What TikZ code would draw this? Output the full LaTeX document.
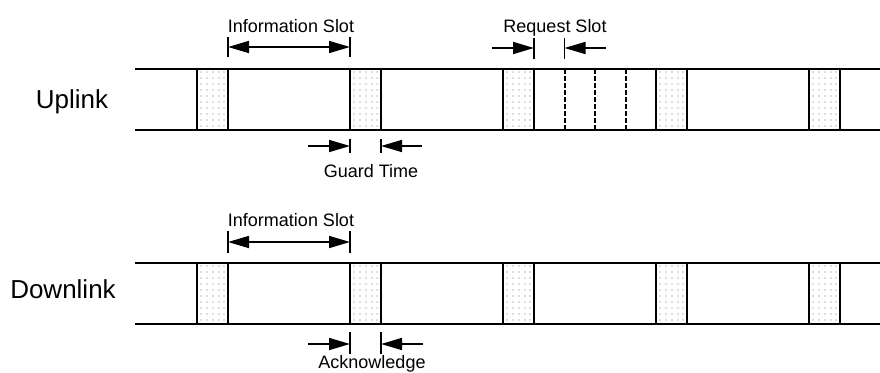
\documentclass[tikz,border=0pt]{standalone}
\usepackage{fontspec}
\setmainfont{Liberation Sans}
\usetikzlibrary{arrows.meta}
\begin{document}
\begin{tikzpicture}[x=1pt,y=-1pt,
  band/.style={line width=2.4pt},
  edge/.style={line width=2.4pt},
  slotline/.style={line width=2pt, dash pattern=on 5pt off 2pt},
  tick/.style={line width=1.6pt},
  head/.tip={Triangle[length=21pt,width=12pt]},
  dimto/.style={line width=1.6pt, -head},
  dimboth/.style={line width=1.6pt, head-head},
  small/.style={font=\fontsize{18}{20}\selectfont, anchor=base, inner sep=0pt},
  big/.style={font=\fontsize{26}{28}\selectfont, anchor=base, inner sep=0pt},
  guard/.pic={
    \foreach \i in {4,10,16,22,27}
      \foreach \j in {3,9,...,58}
        \fill[gray!90!black] (\i,\j) circle (0.6pt);
    \draw[edge] (0,0) rectangle (31,61);
  }
]
\useasboundingbox (0,0) rectangle (880,372);

% ---------------- Uplink frame ----------------
\node[big] (uplink) at (72,108) {Uplink};
\draw[band] (135,69) -- (880,69);
\draw[band] (135,130) -- (880,130);
\foreach \x in {197,350,503,656,809}
  \pic at (\x,69) {guard};
\foreach \x in {564.5,595,625.5}
  \draw[slotline] (\x,69) -- (\x,130);

% information slot dimension
\draw[tick] (228,37) -- (228,57);
\draw[tick] (350,37) -- (350,57);
\coordinate (ui-l) at (228,47);
\coordinate (ui-r) at (350,47);
\draw[dimboth] (ui-l) -- (ui-r);
\node[small] (ui-text) at (291,32) {Information Slot};

% request slot dimension
\draw[tick] (534,38) -- (534,59);
\draw[tick] (564.5,38) -- (564.5,59);
\coordinate (rq-a) at (492,48);
\coordinate (rq-b) at (534,48);
\coordinate (rq-c) at (564.5,48);
\coordinate (rq-d) at (606,48);
\draw[dimto] (rq-a) -- (rq-b);
\draw[dimto] (rq-d) -- (rq-c);
\node[small] (rq-text) at (555,32) {Request Slot};

% guard time dimension
\draw[tick] (350,139) -- (350,153);
\draw[tick] (381,139) -- (381,153);
\coordinate (gt-a) at (308,146);
\coordinate (gt-b) at (350,146);
\coordinate (gt-c) at (381,146);
\coordinate (gt-d) at (422,146);
\draw[dimto] (gt-a) -- (gt-b);
\draw[dimto] (gt-d) -- (gt-c);
\node[small] (gt-text) at (371,177) {Guard Time};

% ---------------- Downlink frame ----------------
\node[big] (downlink) at (63,298) {Downlink};
\draw[band] (135,263) -- (880,263);
\draw[band] (135,324) -- (880,324);
\foreach \x in {197,350,503,656,809}
  \pic at (\x,263) {guard};

% information slot dimension
\draw[tick] (228,231) -- (228,253);
\draw[tick] (350,231) -- (350,253);
\coordinate (di-l) at (228,242);
\coordinate (di-r) at (350,242);
\draw[dimboth] (di-l) -- (di-r);
\node[small] (di-text) at (291,226) {Information Slot};

% acknowledge dimension
\draw[tick] (350,332) -- (350,354);
\draw[tick] (381,332) -- (381,354);
\coordinate (ak-a) at (308,344);
\coordinate (ak-b) at (350,344);
\coordinate (ak-c) at (381,344);
\coordinate (ak-d) at (423,344);
\draw[dimto] (ak-a) -- (ak-b);
\draw[dimto] (ak-d) -- (ak-c);
\node[small] (ak-text) at (372,368) {Acknowledge};
\end{tikzpicture}
\end{document}
